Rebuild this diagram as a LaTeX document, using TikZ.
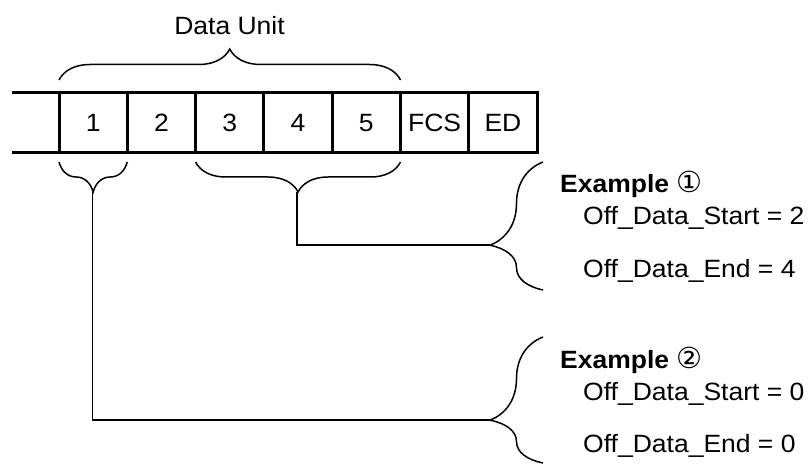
\documentclass[tikz,border=0pt]{standalone}
\usepackage{fontspec}
\setmainfont{Liberation Sans}[FakeStretch=1.06]
\newfontfamily\circfont{DejaVu Sans}
\usetikzlibrary{decorations.pathreplacing}

\begin{document}
\begin{tikzpicture}[x=1pt,y=-1pt,
  txt/.style={inner sep=0pt,font=\fontsize{25}{29}\selectfont},
  cell/.style={txt,draw,line width=3pt,outer sep=0pt,minimum width=68.3pt,minimum height=60pt},
  brace/.style={decorate,decoration={brace,amplitude=#1pt},line width=1.5pt},
  link/.style={line width=1.4pt}]
\useasboundingbox (0,0) rectangle (809,465);
\newcommand\cnum[1]{{\circfont\fontsize{29}{29}\selectfont #1}}
% frame
\foreach \i/\x in {0/1,1/2,2/3,3/4,4/5,5/FCS,6/ED}
  \node[cell] (c\i) at (93.15+68.3*\i,123) {\x};
\coordinate (lt) at (12,93);
\coordinate (lb) at (12,153);
\draw[line width=3pt] (lt) -- (c0.north west);
\draw[line width=3pt] (lb) -- (c0.south west);
% braces on the frame
\draw[brace=31] ([yshift=13pt]c0.north west) -- ([yshift=13pt]c4.north east);
\node[txt,anchor=base] (du) at (229.5,35) {Data Unit};
\draw[brace=30] ([yshift=-9pt]c0.south east) -- ([yshift=-9pt]c0.south west);
\draw[brace=30] ([yshift=-9pt]c4.south east) -- ([yshift=-9pt]c2.south west);
\coordinate (ta) at (92.5,192);
\coordinate (tb) at (297,192);
% examples
\draw[brace=53,decoration={aspect=0.35}] (543,290) -- (543,162);
\draw[brace=53,decoration={aspect=0.34}] (543,463) -- (543,337);
\coordinate (r1) at (490,245);
\coordinate (r2) at (490,420);
\draw[link] (tb) |- (r1);
\draw[link] (ta) |- (r2);
\node[txt,anchor=base west] (e1) at (560,193) {\textbf{Example} \cnum{①}};
\node[txt,anchor=base west] (s1) at (583,225) {Off\_Data\_Start = 2};
\node[txt,anchor=base west] (n1) at (583,277) {Off\_Data\_End = 4};
\node[txt,anchor=base west] (e2) at (560,368) {\textbf{Example} \cnum{②}};
\node[txt,anchor=base west] (s2) at (583,400) {Off\_Data\_Start = 0};
\node[txt,anchor=base west] (n2) at (583,452) {Off\_Data\_End = 0};
\end{tikzpicture}
\end{document}
